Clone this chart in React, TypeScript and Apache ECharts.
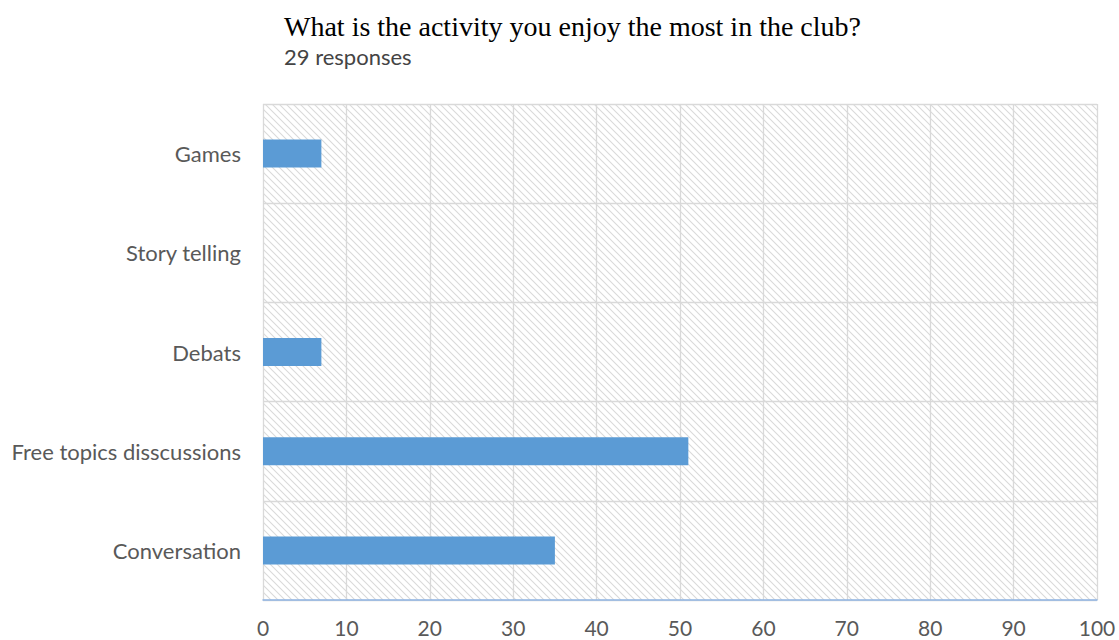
import React, { useEffect, useRef } from "react";
import * as echarts from "echarts";

const title = "What is the activity you enjoy the most in the club?";
const subtitle = "29 responses";
const categories = ["Games", "Story telling", "Debats", "Free topics disscussions", "Conversation"];
const values = [7, 0, 7, 51, 35];
const xTicks = [0, 10, 20, 30, 40, 50, 60, 70, 80, 90, 100];

function makeHatch(): HTMLCanvasElement {
  const c = document.createElement("canvas");
  const s = 7;
  c.width = s;
  c.height = s;
  const ctx = c.getContext("2d")!;
  ctx.fillStyle = "#ffffff";
  ctx.fillRect(0, 0, s, s);
  ctx.strokeStyle = "#dadada";
  ctx.lineWidth = 1.1;
  ctx.beginPath();
  ctx.moveTo(-1, -1);
  ctx.lineTo(s + 1, s + 1);
  ctx.moveTo(-1, s - 1);
  ctx.lineTo(1, s + 1);
  ctx.moveTo(s - 1, -1);
  ctx.lineTo(s + 1, 1);
  ctx.stroke();
  return c;
}

export default function App() {
  const ref = useRef<HTMLDivElement>(null);
  useEffect(() => {
    if (!ref.current) return;
    const chart = echarts.init(ref.current, null, { renderer: "svg" });
    const hatch = makeHatch();
    chart.setOption({
      animation: false,
      backgroundColor: "#ffffff",
      title: [
        {
          text: title,
          left: 279,
          top: 7,
          textStyle: { fontFamily: "Liberation Serif", fontSize: 28, fontWeight: "normal", color: "#000000" },
        },
        {
          text: subtitle,
          left: 279,
          top: 40,
          textStyle: { fontFamily: "Lato", fontSize: 22, fontWeight: "normal", color: "#444444" },
        },
      ],
      grid: {
        left: 263,
        right: 22,
        top: 104,
        bottom: 40,
        show: true,
        borderWidth: 0,
        backgroundColor: { image: hatch, repeat: "repeat" } as any,
      },
      xAxis: {
        type: "value",
        min: 0,
        max: 100,
        interval: 10,
        axisLine: { show: true, lineStyle: { color: "#8fb4e3", width: 1.5 } },
        axisTick: { show: false },
        splitLine: { show: true, lineStyle: { color: "#d9d9d9", width: 1.3 } },
        axisLabel: {
          margin: 17,
          fontFamily: "Lato",
          fontSize: 21,
          color: "#595959",
          formatter: (v: number) => (xTicks.includes(v) ? String(v) : ""),
        },
      },
      yAxis: {
        type: "category",
        data: categories,
        inverse: true,
        axisLine: { show: false },
        axisTick: { show: false },
        splitLine: { show: true, lineStyle: { color: "#d9d9d9", width: 1.3 } },
        axisLabel: { margin: 22, fontFamily: "Lato", fontSize: 22, color: "#595959" },
      },
      series: [
        {
          type: "bar",
          data: values,
          barWidth: 28,
          itemStyle: { color: "#5b9bd5" },
        },
      ],
    });
    return () => chart.dispose();
  }, []);
  return <div ref={ref} style={{ position: "fixed", left: 0, top: 0, width: 1119, height: 640 }} />;
}
